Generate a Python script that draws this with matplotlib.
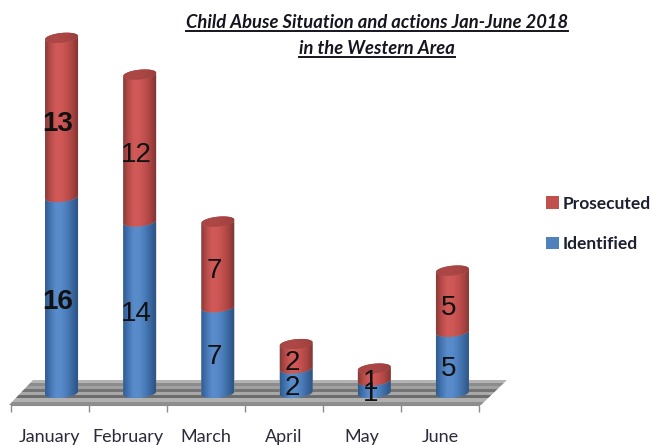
import numpy as np
import matplotlib
matplotlib.use("Agg")
import matplotlib.pyplot as plt
from matplotlib.colors import LinearSegmentedColormap as LSC
from matplotlib.transforms import Affine2D

months = ["January", "February", "March", "April", "May", "June"]
identified = [16, 14, 7, 2, 1, 5]
prosecuted = [13, 12, 7, 2, 1, 5]
bold_labels = ["January"]
title_lines = ["Child Abuse Situation and actions Jan-June 2018", "in the Western Area"]

W, H = 651, 445
plt.rcParams["font.family"] = ["Lato", "DejaVu Sans"]
fig = plt.figure(figsize=(W / 100, H / 100), dpi=100)
X0, X1, Y0, Y1 = 10.5, 479.5, 405, 10  # axes box in pixels (front plane of the chart)
ax = fig.add_axes([X0 / W, 1 - Y0 / H, (X1 - X0) / W, (Y0 - Y1) / H])
PX_X = (X1 - X0) / 6                   # pixels per category
PX_Y = 12.25                           # pixels per case
BASE = 393                             # pixel row of value 0
ax.set_xlim(-0.5, 5.5)
ax.set_ylim(-(Y0 - BASE) / PX_Y, (BASE - Y1) / PX_Y)
ax.autoscale(False)
pix = Affine2D().scale(1, -1).translate(0, H)

# striped floor
floor_bands = [(380, 383, "#b4b4b4"), (383, 386, "#8c8c8c"), (386, 389, "#a0a0a0"), (389, 392, "#747474"),
               (392, 395, "#a8a8a8"), (395, 398, "#6c6c6c"), (398, 402, "#b0b0b0"), (402, 405, "#8e8e8e")]
def edge(y, a, b):
    return a + (b - a) * (405 - y) / 25
for top, bot, col in floor_bands:
    ax.fill([edge(bot, 9, 33), edge(bot, 481, 507), edge(top, 481, 507), edge(top, 9, 33)],
            [bot, bot, top, top], color=col, lw=0, transform=pix, clip_on=False, zorder=1)

x = np.arange(len(months))
depth = 12 / PX_X                      # bars stand back from the front plane
a = 16.5 / PX_X
b = 4.8 / PX_Y
k = 1.6 / PX_Y
bw = 1.4 * a

blue_cm = LSC.from_list("b", ["#2f5b90", "#4677b4", "#5a8ccb", "#578ac8", "#4a7cba", "#3b689f", "#2b5486"])
red_cm = LSC.from_list("r", ["#8b3a38", "#b94c4a", "#d05a58", "#cf5856", "#c04f4d", "#a94442", "#833533"])
redtop_cm = LSC.from_list("rt", ["#a54543", "#ae4846", "#a84543", "#98403e"])
grad = np.linspace(0, 1, 64).reshape(1, -1)

def shade(xc, yy_top, yy_bot, poly, cmap, z):
    im = ax.imshow(grad, cmap=cmap, extent=(xc - a, xc + a, yy_bot, yy_top), aspect="auto", zorder=z)
    im.set_clip_path(poly)
    im.set_clip_on(True)

def cylinder(xc, low, high, cmap, z):
    t = np.linspace(0, np.pi, 40)
    # outline: front of the lower rim, then front of the upper rim
    xs = np.r_[xc - a * np.cos(t), xc + a * np.cos(t)]
    ys = np.r_[low - b * np.sin(t) - k * np.cos(t), high - b * np.sin(t)[::-1] + k * np.cos(t)]
    poly = ax.fill(xs, ys, color="#888888", lw=0, zorder=z, clip_on=False)[0]
    shade(xc, high + 1, low - 1, poly, cmap, z + 0.1)

def cap(xc, y, cmap, z):
    t = np.linspace(0, 2 * np.pi, 80)
    poly = ax.fill(xc + a * np.cos(t), y + b * np.sin(t) + k * np.cos(t), color="#a54543", lw=0, zorder=z)[0]
    shade(xc, y + 1, y - 1, poly, cmap, z + 0.1)

bar_x = x + depth
b1 = ax.bar(bar_x, identified, width=bw, color="#4F81BD", label="Identified", zorder=2)
b2 = ax.bar(bar_x, prosecuted, bottom=identified, width=bw, color="#C0504D", label="Prosecuted", zorder=2)
for i, xc in enumerate(bar_x):
    lo = identified[i]
    hi = lo + prosecuted[i]
    cylinder(xc, 0, lo, blue_cm, 3)
    cylinder(xc, lo, hi, red_cm, 4)
    cap(xc, hi, redtop_cm, 5)

# data labels
for i, xc in enumerate(bar_x):
    weight = "bold" if months[i] in bold_labels else "normal"
    for val, bot in ((identified[i], 0), (prosecuted[i], identified[i])):
        ax.annotate(str(val), (xc, bot + val / 2), xytext=(-2.5, -5), textcoords="offset points",
                    ha="center", va="center", fontsize=20, color="#111111", fontweight=weight,
                    family=["Liberation Sans Narrow", "Liberation Sans"], zorder=8, annotation_clip=False)

# axes
for s in ("top", "left", "right"):
    ax.spines[s].set_visible(False)
ax.spines["bottom"].set_color("#8c8c8c")
ax.spines["bottom"].set_zorder(6)
ax.set_yticks([])
ax.set_xticks(x, months)
ax.set_xticks(np.arange(len(months) + 1) - 0.5, minor=True)
ax.tick_params(axis="x", which="major", length=0, pad=17.5, labelsize=13, labelcolor="#2a2a3a")
ax.tick_params(axis="x", which="minor", length=5, width=1, color="#8c8c8c")

# legend
handles = [b2, b1]
ax.legend(handles, ["Prosecuted", "Identified"], loc="upper left",
          bbox_to_anchor=((546 - X0) / (X1 - X0), 1 - (195.5 - Y1) / (Y0 - Y1)),
          frameon=False, prop={"family": "Lato", "weight": "bold", "size": 12.5},
          handlelength=0.72, handleheight=0.72, handletextpad=0.25, labelspacing=1.42,
          borderpad=0, borderaxespad=0)
for t in ax.get_legend().get_texts():
    t.set_color("#1c2030")

# title, underlined by hand
fig.canvas.draw()
r = fig.canvas.get_renderer()
for line, py in zip(title_lines, (22, 48)):
    t = fig.text(377 / W, 1 - py / H, line, ha="center", va="center", fontsize=13.2,
                 fontweight="bold", fontstyle="italic", color="#15151f")
    bb = t.get_window_extent(r)
    fig.add_artist(plt.Line2D([bb.x0 / W, bb.x1 / W], [1 - (py + 8.5) / H] * 2, color="#15151f", lw=1.4,
                              transform=fig.transFigure))

fig.savefig("out.png", dpi=100)
